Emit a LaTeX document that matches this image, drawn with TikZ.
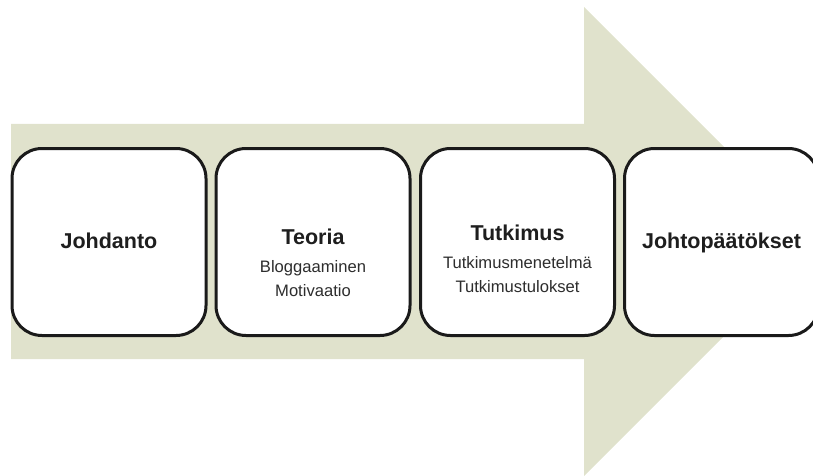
\documentclass[tikz,border=0pt]{standalone}
\usepackage{fontspec}
\setmainfont{Liberation Sans}
\definecolor{arrowfill}{RGB}{224,226,204}
\definecolor{boxline}{RGB}{26,26,26}
\definecolor{titletext}{RGB}{30,30,30}
\definecolor{subtext}{RGB}{45,45,45}
\begin{document}
\begin{tikzpicture}[x=1pt,y=-1pt,
  stagebox/.style={draw=boxline, line width=3pt, fill=white, rounded corners=30pt,
    minimum width=194pt, minimum height=187pt, inner sep=0pt},
  title/.style={font=\fontsize{21.5}{24}\selectfont\bfseries, text=titletext, inner sep=0pt, anchor=base},
  sub/.style={font=\fontsize{16.6}{19}\selectfont, text=subtext, inner sep=0pt, anchor=base}]
  \path[use as bounding box, clip] (0,0) rectangle (813,476);

  % big background arrow
  \fill[arrowfill] (11,124) -- (584,124) -- (584,7) -- (818.5,241.5)
    -- (584,476) -- (584,359) -- (11,359) -- cycle;

  % stage boxes
  \node[stagebox] (b1) at (109,242) {};
  \node[stagebox] (b2) at (313,242) {};
  \node[stagebox] (b3) at (517.5,242) {};
  \node[stagebox] (b4) at (721.5,242) {};

  % labels
  \node[title] (t1) at ([yshift=-6pt]b1.center) {Johdanto};

  \node[title] (t2) at ([yshift=-2pt]b2.center) {Teoria};
  \node[sub] (s21) at ([yshift=-30pt]b2.center) {Bloggaaminen};
  \node[sub] (s22) at ([yshift=-54pt]b2.center) {Motivaatio};

  \node[title] (t3) at ([yshift=2pt]b3.center) {Tutkimus};
  \node[sub] (s31) at ([yshift=-26pt]b3.center) {Tutkimusmenetelmä};
  \node[sub] (s32) at ([yshift=-50pt]b3.center) {Tutkimustulokset};

  \node[title] (t4) at ([yshift=-6pt]b4.center) {Johtopäätökset};
\end{tikzpicture}
\end{document}
